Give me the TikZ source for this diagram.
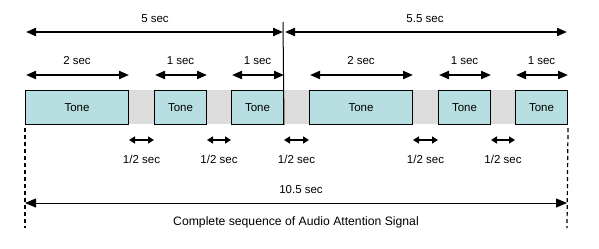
\documentclass[tikz,border=0pt]{standalone}
\usepackage{fontspec}
\setmainfont{Liberation Sans}
\usetikzlibrary{arrows.meta,calc}
\definecolor{tonefill}{RGB}{183,222,224}
\definecolor{bandgrey}{RGB}{220,220,220}
\begin{document}
\begin{tikzpicture}[x=1bp,y=-1bp,
  font=\fontsize{11.5bp}{13bp}\selectfont,
  tone/.style={draw=black,line width=1bp,fill=tonefill,minimum height=34bp,inner sep=0pt,anchor=north west},
  span/.style={line width=2bp,{Triangle[length=10bp,width=8bp]}-{Triangle[length=10bp,width=8bp]}},
  gap/.style={line width=1.6bp,{Triangle[length=6bp,width=7bp]}-{Triangle[length=6bp,width=7bp]}},
  total/.style={line width=1bp,{Triangle[length=11bp,width=9bp]}-{Triangle[length=11bp,width=9bp]}},
  lbl/.style={inner sep=0pt,anchor=center},
  guide/.style={line width=1.2bp,dash pattern=on 4bp off 3bp}]
\useasboundingbox (0,0) rectangle (599,248);

% grey background band of the sequence
\fill[bandgrey] (25,90) rectangle (567,124);

% tone bursts
\node[tone,minimum width=103bp] (t1) at (25,90)  {Tone};
\node[tone,minimum width=52bp]  (t2) at (154,90) {Tone};
\node[tone,minimum width=52bp]  (t3) at (231,90) {Tone};
\node[tone,minimum width=103bp] (t4) at (309,90) {Tone};
\node[tone,minimum width=52bp]  (t5) at (438,90) {Tone};
\node[tone,minimum width=52bp]  (t6) at (515,90) {Tone};

% divider between the two halves
\coordinate (divtop) at (283,22);
\draw[line width=1bp] (divtop) -- (t3.south east);

% half-sequence spans
\coordinate (h1) at (26,32);
\coordinate (h2) at (283,32);
\coordinate (h3) at (285,32);
\coordinate (h4) at (567,32);
\draw[span] (h1) -- (h2);
\draw[span] (h3) -- (h4);
\node[lbl] (l5) at (155,19) {5 sec};
\node[lbl] (l55) at (425,19) {5.5 sec};

% tone durations
\foreach \t/\s in {t1/2 sec,t2/1 sec,t3/1 sec,t4/2 sec,t5/1 sec,t6/1 sec}{
  \draw[span] ($(\t.north west)+(1,-15)$) -- ($(\t.north east)+(0,-15)$);
  \node[lbl] (\t lab) at ($(\t.north)+(0,-29)$) {\s};
}

% pauses between tones
\foreach \a/\b in {t1/t2,t2/t3,t3/t4,t4/t5,t5/t6}{
  \draw[gap] ($(\a.south east)+(0,15)$) -- ($(\b.south west)+(0,15)$);
  \node[lbl] (\a gap) at ($($(\a.south east)!0.5!(\b.south west)$)+(0,34)$) {1/2 sec};
}

% overall length
\coordinate (g1) at (25,228);
\coordinate (g2) at (567,228);
\draw[guide] (t1.south west) ++(0,3) -- (g1);
\draw[guide] (t6.south east) ++(0,3) -- (g2);
\coordinate (a1) at (25,203);
\coordinate (a2) at (567,203);
\draw[total] (a1) -- (a2);
\node[lbl] (ltot) at (301,190) {10.5 sec};
\node[lbl,font=\fontsize{12.2bp}{14bp}\selectfont] (cap) at (296,222) {Complete sequence of Audio Attention Signal};
\end{tikzpicture}
\end{document}
